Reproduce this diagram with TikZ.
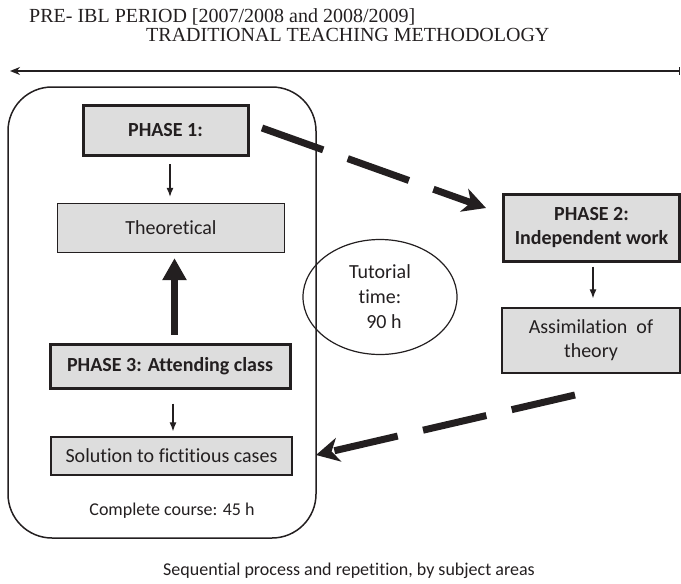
\documentclass[tikz,border=0pt]{standalone}
\usepackage{fontspec}
\setmainfont{Carlito}[Ligatures={NoCommon}]
\newfontfamily\titlefont{Liberation Serif}
\usetikzlibrary{arrows.meta,shapes.geometric}
\definecolor{boxfill}{RGB}{221,221,221}
\definecolor{ink}{RGB}{35,31,32}
\begin{document}
\begin{tikzpicture}[x=1pt,y=-1pt,
  every node/.style={text=ink},
  thinbox/.style={draw=ink, line width=1.3pt, fill=boxfill, inner sep=0pt, align=center,
                  font=\fontsize{20}{24}\selectfont},
  thickbox/.style={draw=ink, line width=3pt, fill=boxfill, inner sep=0pt, align=center,
                  font=\fontsize{20}{24}\selectfont\bfseries},
  smallarrow/.style={draw=ink, line width=1.2pt, -{Latex[length=9pt,width=7pt]}},
  bigarrow/.style={draw=ink, line width=7pt, -{Triangle[length=22pt,width=23pt]}},
  dasharrow/.style={draw=ink, line width=7pt, dash pattern=on 65pt off 26pt,
                    -{Stealth[length=23pt,width=24pt,inset=7pt]}},
  titletext/.style={font=\titlefont\fontsize{20}{24}\selectfont, inner sep=0pt, anchor=base west}
]
\useasboundingbox (0,0) rectangle (681,584);

% titles
\node[titletext] (t1) at (29,22) {PRE- IBL PERIOD [2007/2008 and 2008/2009]};
\node[titletext] (t2) at (146,41) {TRADITIONAL TEACHING METHODOLOGY};

% timeline
\coordinate (tlL) at (10,71);
\coordinate (tlR) at (680,71);
\draw[ink, line width=2pt, {Stealth[length=10pt,width=8pt]}-{Bar[width=8pt,line width=1.5pt]}] (tlL) -- (tlR);

% big rounded frame
\node[draw=ink, line width=1.5pt, rounded corners=44pt, minimum width=308pt, minimum height=451pt,
      inner sep=0pt] (frame) at (162,312.5) {};

% left column
\node[thickbox, minimum width=165pt, minimum height=50pt] (p1) at (165.5,130.5) {PHASE 1:};
\node[thinbox, minimum width=227pt, minimum height=49pt] (th) at (171,228) {Theoretical};
\node[thickbox, minimum width=240pt, minimum height=44pt] (p3) at (170,366) {PHASE 3: Attending class};
\node[thinbox, minimum width=241pt, minimum height=38pt] (sol) at (171.5,456) {Solution to fictitious cases};
\node[font=\fontsize{18}{22}\selectfont, inner sep=0pt] (cc) at (172,511) {Complete course: 45 h};

\draw[smallarrow, shorten <=7pt, shorten >=6pt] (p1.south -| 170,0) -- (th.north -| 170,0);
\draw[bigarrow, shorten <=8pt, shorten >=5pt] (p3.north -| 174.5,0) -- (th.south -| 174.5,0);
\draw[smallarrow, shorten <=14pt, shorten >=5pt] (p3.south -| 173,0) -- (sol.north -| 173,0);

% tutorial ellipse
\node[draw=ink, line width=1.2pt, ellipse, minimum width=154pt, minimum height=115pt, inner sep=0pt,
      align=center, font=\fontsize{20}{25}\selectfont] (tut) at (380,297) {Tutorial\\time:\\\hspace{8pt}90 h};

% right column
\node[thickbox, minimum width=176pt, minimum height=67pt] (p2) at (591.5,227.5) {PHASE 2:\\Independent work};
\node[thinbox, minimum width=178pt, minimum height=65pt] (as) at (591,340.5) {Assimilation\ \ of\\theory};
\draw[smallarrow, shorten <=4pt, shorten >=9pt] (p2.south -| 593,0) -- (as.north -| 593,0);

% dashed cycle arrows
\coordinate (d1s) at (262,128);
\coordinate (d1e) at (486,208);
\draw[dasharrow] (d1s) -- (d1e);
\coordinate (d2s) at (575,395);
\coordinate (d2e) at (316,455);
\draw[dasharrow] (d2s) -- (d2e);

% bottom caption
\node[font=\fontsize{18}{22}\selectfont, inner sep=0pt, anchor=base west] (cap) at (163,575)
  {Sequential process and repetition, by subject areas};
\end{tikzpicture}
\end{document}
